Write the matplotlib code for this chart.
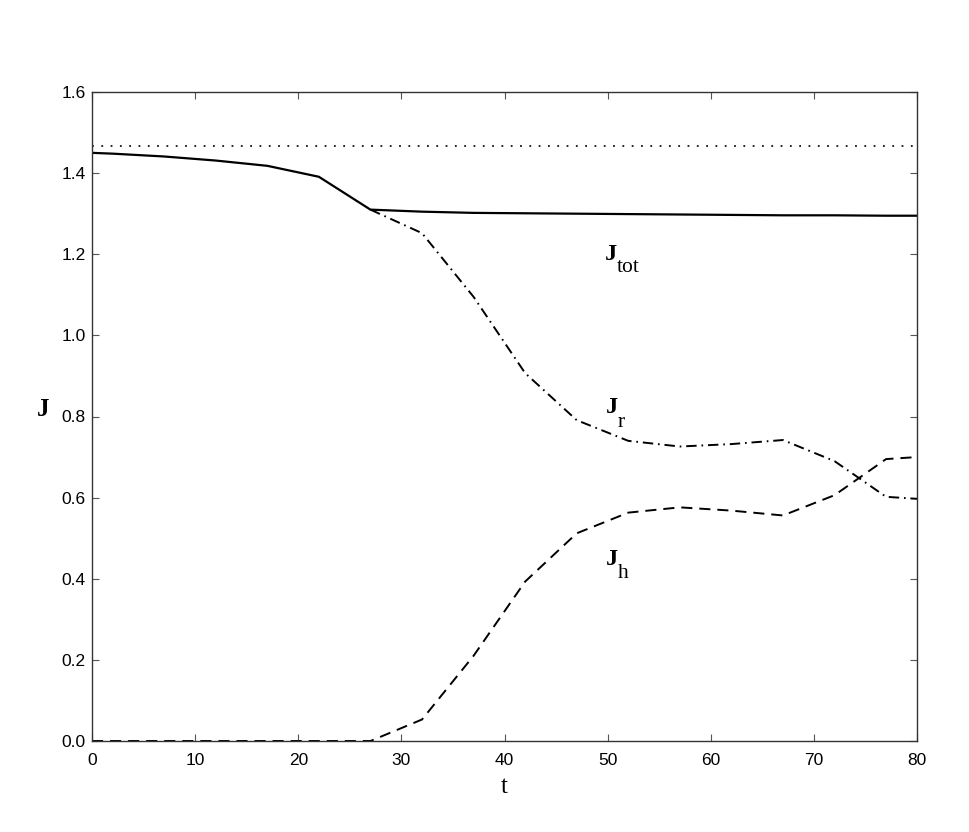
import matplotlib
matplotlib.use("Agg")
import matplotlib.pyplot as plt

# data
t_tot = [0, 2, 7, 12, 17, 22, 27, 32, 37, 42, 47, 52, 57, 62, 67, 72, 77, 80]
J_tot = [1.450, 1.448, 1.441, 1.431, 1.418, 1.391, 1.310, 1.305, 1.302, 1.301,
         1.300, 1.299, 1.298, 1.297, 1.296, 1.296, 1.295, 1.295]
t_r = [27, 32, 37, 42, 47, 52, 57, 62, 67, 72, 77, 80]
J_r = [1.310, 1.252, 1.095, 0.907, 0.791, 0.740, 0.726, 0.732, 0.742, 0.690, 0.602, 0.597]
t_h = [0, 27, 32, 37, 42, 47, 52, 57, 62, 67, 72, 77, 80]
J_h = [0.0, 0.0, 0.053, 0.210, 0.393, 0.512, 0.563, 0.576, 0.568, 0.556, 0.606, 0.695, 0.700]
t_ref = [0, 80]
J_ref = [1.467, 1.467]

xticks = [0, 10, 20, 30, 40, 50, 60, 70, 80]
yticks = [0.0, 0.2, 0.4, 0.6, 0.8, 1.0, 1.2, 1.4, 1.6]

plt.rcParams['lines.scale_dashes'] = False
fig = plt.figure(figsize=(9.69, 8.32), dpi=100)
ax = fig.add_axes([92/969, 91/832, 825/969, 649/832])

ax.plot(t_ref, J_ref, color='black', lw=1.2, dashes=(1.3, 5.4))
ax.plot(t_tot, J_tot, color='black', lw=1.6, solid_joinstyle='miter')
ax.plot(t_r, J_r, color='black', lw=1.4, dashes=(7.5, 3.5, 1.2, 3.5))
ax.plot(t_h, J_h, color='black', lw=1.4, dashes=(8.0, 5.0))

ax.set_xlim(0, 80)
ax.set_ylim(0, 1.6)
ax.set_xticks(xticks)
ax.set_yticks(yticks)
ax.set_xticklabels([str(v) for v in xticks])
ax.set_yticklabels([f"{v:.1f}" for v in yticks])
ax.tick_params(direction='in', length=5, width=0.8, color='#555555',
               top=True, right=True, labelsize=12.5)
ax.tick_params(axis='x', pad=8.5)
ax.tick_params(axis='y', pad=4.5)
for lab in ax.get_xticklabels() + ax.get_yticklabels():
    lab.set_family('Liberation Sans')
for s in ax.spines.values():
    s.set_linewidth(1.0)
    s.set_color('#333333')

serif = 'Liberation Serif'
ax.set_xlabel('t', family=serif, fontsize=18, labelpad=6)
fig.text(37/969, 1 - 416/832, 'J', family=serif, fontsize=18, fontweight='bold',
         ha='left', va='baseline')

def label(x0, yb, xs, ysb, sub):
    ax.text(x0, yb, 'J', family=serif, fontsize=17.5, fontweight='bold',
            ha='left', va='baseline')
    ax.text(xs, ysb, sub, family=serif, fontsize=15.5, ha='left', va='baseline')

label(49.7, 1.186, 50.9, 1.156, 'tot')
label(49.8, 0.809, 51.0, 0.774, 'r')
label(49.8, 0.434, 51.0, 0.402, 'h')

fig.savefig('out.png', dpi=100)
